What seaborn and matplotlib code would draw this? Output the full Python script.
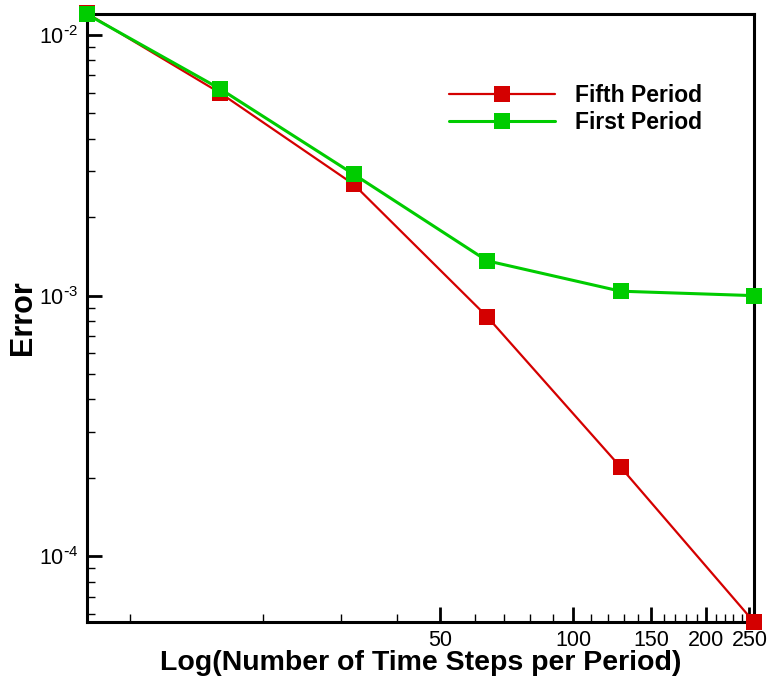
import math
import matplotlib
matplotlib.use("Agg")
import matplotlib.pyplot as plt
import matplotlib.ticker as mticker
import seaborn as sns
import pandas as pd

steps = [8, 16, 32, 64, 128, 256]
fifth_period = [0.0121, 0.00598, 0.00267, 0.00083, 0.000220, 5.6e-5]
first_period = [0.0120, 0.00620, 0.00292, 0.00136, 0.00104, 0.00100]
series_names = ["Fifth Period", "First Period"]
x_major = [50, 100, 150, 200, 250]
x_minor = [10, 20, 30, 40, 60, 70, 80, 90, 110, 120, 130, 140, 160, 170, 180, 190, 210, 220, 230, 240]

sns.set_style("white")
plt.rcParams["font.family"] = ["Liberation Sans", "DejaVu Sans"]
plt.rcParams["mathtext.default"] = "regular"
plt.rcParams["text.color"] = "black"
plt.rcParams["axes.labelcolor"] = "black"
plt.rcParams["xtick.color"] = "black"
plt.rcParams["ytick.color"] = "black"

fig = plt.figure(figsize=(7.72, 6.83), dpi=100)
ax = fig.add_axes([87/772, 1-622/683, 667/772, 608/683])

colors = {"Fifth Period": "#d40000", "First Period": "#00cc00"}
widths = {"Fifth Period": 1.6, "First Period": 2.2}
data = {"Fifth Period": fifth_period, "First Period": first_period}

for name in series_names:
    df = pd.DataFrame({"steps": steps, "error": data[name]})
    sns.lineplot(data=df, x="steps", y="error", ax=ax, color=colors[name],
                 linewidth=widths[name], marker="s", markersize=11,
                 markeredgewidth=0, label=name, clip_on=False, zorder=3)

ax.set_xscale("log")
ax.set_yscale("log")
ax.set_xlim(8, 256)
ax.set_ylim(5.6e-5, 0.01203)

ax.xaxis.set_major_locator(mticker.FixedLocator(x_major))
ax.xaxis.set_major_formatter(mticker.FixedFormatter([str(v) for v in x_major]))
ax.xaxis.set_minor_locator(mticker.FixedLocator(x_minor))
ax.xaxis.set_minor_formatter(mticker.NullFormatter())

def yfmt(v, p):
    e = int(round(math.log10(v)))
    return r"$10^{\text{-}%d}$" % abs(e) if e < 0 else r"$10^{%d}$" % e

ax.yaxis.set_major_locator(mticker.LogLocator(base=10))
ax.yaxis.set_major_formatter(mticker.FuncFormatter(yfmt))
ax.yaxis.set_minor_locator(mticker.LogLocator(base=10, subs=range(2, 10)))
ax.yaxis.set_minor_formatter(mticker.NullFormatter())

ax.tick_params(which="major", direction="in", length=11, width=2, labelsize=15.5, colors="black", pad=6)
ax.tick_params(which="minor", direction="in", length=6, width=1, colors="black")
ax.tick_params(top=False, right=False, which="both")
ax.tick_params(axis="both", which="both", bottom=True, left=True)

for s in ax.spines.values():
    s.set_linewidth(2.2)
    s.set_color("black")

ax.set_xlabel("Log(Number of Time Steps per Period)", fontsize=20.5, fontweight="bold", labelpad=-1, color="black")
ax.set_ylabel("Error", fontsize=22, fontweight="bold", labelpad=1, color="black")

ax.legend(loc="center left", bbox_to_anchor=(0.543, 0.844), frameon=False,
          handlelength=4.6, handletextpad=0.87, labelspacing=0.2,
          borderpad=0, borderaxespad=0, prop={"weight": "bold", "size": 16.5})

fig.savefig("out.png", dpi=100)
